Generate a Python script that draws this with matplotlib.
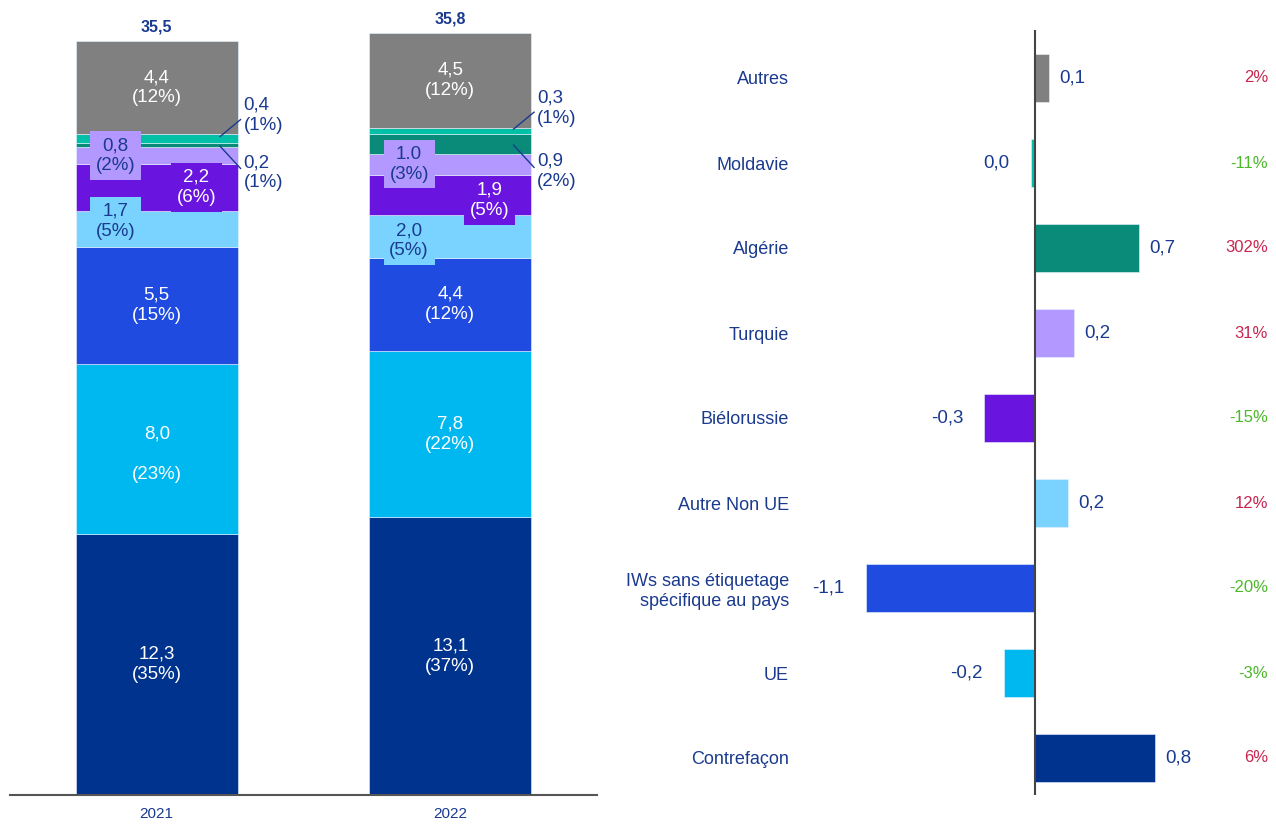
import matplotlib
matplotlib.use("Agg")
import matplotlib.pyplot as plt

plt.rcParams['font.family'] = ['Liberation Sans', 'DejaVu Sans']

# ---------------- data ----------------
years = ["2021", "2022"]
segments = ["Contrefaçon", "UE", "IWs sans étiquetage\nspécifique au pays", "Autre Non UE",
            "Biélorussie", "Turquie", "Algérie", "Moldavie", "Autres"]
values_2021 = [12.3, 8.0, 5.5, 1.7, 2.2, 0.8, 0.2, 0.4, 4.4]
values_2022 = [13.1, 7.8, 4.4, 2.0, 1.9, 1.0, 0.9, 0.3, 4.5]
labels_2021 = ["12,3\n(35%)", "8,0\n\n(23%)", "5,5\n(15%)", "1,7\n(5%)", "2,2\n(6%)",
               "0,8\n(2%)", "0,2\n(1%)", "0,4\n(1%)", "4,4\n(12%)"]
labels_2022 = ["13,1\n(37%)", "7,8\n(22%)", "4,4\n(12%)", "2,0\n(5%)", "1,9\n(5%)",
               "1.0\n(3%)", "0,9\n(2%)", "0,3\n(1%)", "4,5\n(12%)"]
totals = ["35,5", "35,8"]

colors = ["#00338D", "#00B8F0", "#1F4BE0", "#7AD3FF", "#6A14E0",
          "#B399FF", "#0A8A78", "#00C0A8", "#808080"]
text_colors = ["white", "white", "white", "#1A3A8F", "white",
               "#1A3A8F", "#1A3A8F", "#1A3A8F", "white"]

# right chart (top to bottom)
diff_cats = ["Autres", "Moldavie", "Algérie", "Turquie", "Biélorussie", "Autre Non UE",
             "IWs sans étiquetage\nspécifique au pays", "UE", "Contrefaçon"]
diff_values = [0.09, -0.03, 0.69, 0.26, -0.34, 0.22, -1.13, -0.21, 0.80]
diff_labels = ["0,1", "0,0", "0,7", "0,2", "-0,3", "0,2", "-1,1", "-0,2", "0,8"]
diff_pct = ["2%", "-11%", "302%", "31%", "-15%", "12%", "-20%", "-3%", "6%"]
diff_colors = ["#808080", "#00C0A8", "#0A8A78", "#B399FF", "#6A14E0",
               "#7AD3FF", "#1F4BE0", "#00B8F0", "#00338D"]

NAVY = "#1A3A8F"
RED = "#C8254F"
GREEN = "#4CB82A"
FS = 13.5

W, H = 1276, 825
fig = plt.figure(figsize=(W / 100, H / 100), dpi=100)

def pax(x0, y0, x1, y1):
    return fig.add_axes([x0 / W, 1 - y1 / H, (x1 - x0) / W, (y1 - y0) / H])

# ---------------- left stacked chart ----------------
ax = pax(10, 10, 597, 795)
px_per_unit = (795 - 41) / 35.5
ax.set_ylim(0, (795 - 10) / px_per_unit)
ax.set_xlim(-0.5, 1.5)
bw = 0.551
xs = [0, 1]
all_vals = [values_2021, values_2022]
all_labels = [labels_2021, labels_2022]
bottoms_all = []
for xi, vals in zip(xs, all_vals):
    b = 0.0
    bots = []
    for v, c in zip(vals, colors):
        ax.bar(xi, v, bottom=b, width=bw, color=c, edgecolor="#E8F4FF", linewidth=0.4, zorder=2)
        bots.append(b)
        b += v
    bottoms_all.append(bots)
    ax.text(xi, b + 0.3, totals[xi], ha="center", va="bottom", fontsize=11.5,
            fontweight="bold", color=NAVY)

x_off = {3: -0.14, 4: 0.135, 5: -0.14}
y_shift = [{3: 0.35, 1: -0.25}, {3: -0.2, 4: -0.25}]
for xi, vals, labs, bots in zip(xs, all_vals, all_labels, bottoms_all):
    for i, (v, lab, bot) in enumerate(zip(vals, labs, bots)):
        if i in (6, 7):
            continue
        yc = bot + v / 2 + y_shift[xi].get(i, 0)
        xo = x_off.get(i, 0)
        kw = {}
        if i in (3, 4, 5):
            kw["bbox"] = dict(boxstyle="square,pad=0.3", fc=colors[i], ec="none")
        ax.text(xi + xo, yc, lab, ha="center", va="center", fontsize=FS,
                color=text_colors[i], linespacing=1.25, zorder=4, **kw)
    # callouts for Algérie (6) and Moldavie (7)
    right = xi + bw / 2
    y_mol = bots[7] + vals[7] / 2
    y_alg = bots[6] + vals[6] / 2
    ax.plot([right - 0.06, right + 0.01], [y_mol + 0.1, y_mol + 0.9], color=NAVY, lw=1, zorder=5)
    ax.plot([right - 0.06, right + 0.01], [y_alg - 0.05, y_alg - 1.1], color=NAVY, lw=1, zorder=5)
    ax.text(right + 0.02, y_mol + 1.1, all_labels[xi][7], ha="left", va="center",
            fontsize=FS, color=NAVY, linespacing=1.25)
    ax.text(right + 0.02, y_alg - 1.3, all_labels[xi][6], ha="left", va="center",
            fontsize=FS, color=NAVY, linespacing=1.25)

ax.set_xticks(xs)
ax.set_xticklabels(years, fontsize=11, color=NAVY)
ax.tick_params(axis="x", length=0, pad=9)
ax.set_yticks([])
for s in ["top", "right", "left"]:
    ax.spines[s].set_visible(False)
ax.spines["bottom"].set_color("#555555")
ax.spines["bottom"].set_linewidth(1.5)

# ---------------- right diverging chart ----------------
ax2 = pax(800, 30, 1276, 795)
pxu = 150.0
ax2.set_xlim(-(1035 - 800) / pxu, (1276 - 1035) / pxu)
ax2.set_ylim((795 - 78) / 85.0, (30 - 78) / 85.0)
ys = list(range(len(diff_cats)))
ax2.barh(ys, diff_values, height=0.56, color=diff_colors, edgecolor="#E8F4FF",
         linewidth=0.4, zorder=2)
ax2.axvline(0, color="#444444", lw=1.5, zorder=3)
for y, v, lab, pct in zip(ys, diff_values, diff_labels, diff_pct):
    if v >= 0:
        ax2.text(v + 0.07, y, lab, ha="left", va="center", fontsize=FS, color=NAVY)
    else:
        ax2.text(v - 0.14, y, lab, ha="right", va="center", fontsize=FS, color=NAVY)
    pc = GREEN if pct.startswith("-") else RED
    ax2.text((1268 - 1035) / pxu, y, pct, ha="right", va="center", fontsize=12, color=pc)
ax2.set_yticks(ys)
ax2.set_yticklabels(diff_cats, fontsize=13, color=NAVY, linespacing=1.25)
ax2.tick_params(axis="y", length=0, pad=8)
ax2.set_xticks([])
for s in ax2.spines.values():
    s.set_visible(False)

fig.savefig("out.png", dpi=100)
